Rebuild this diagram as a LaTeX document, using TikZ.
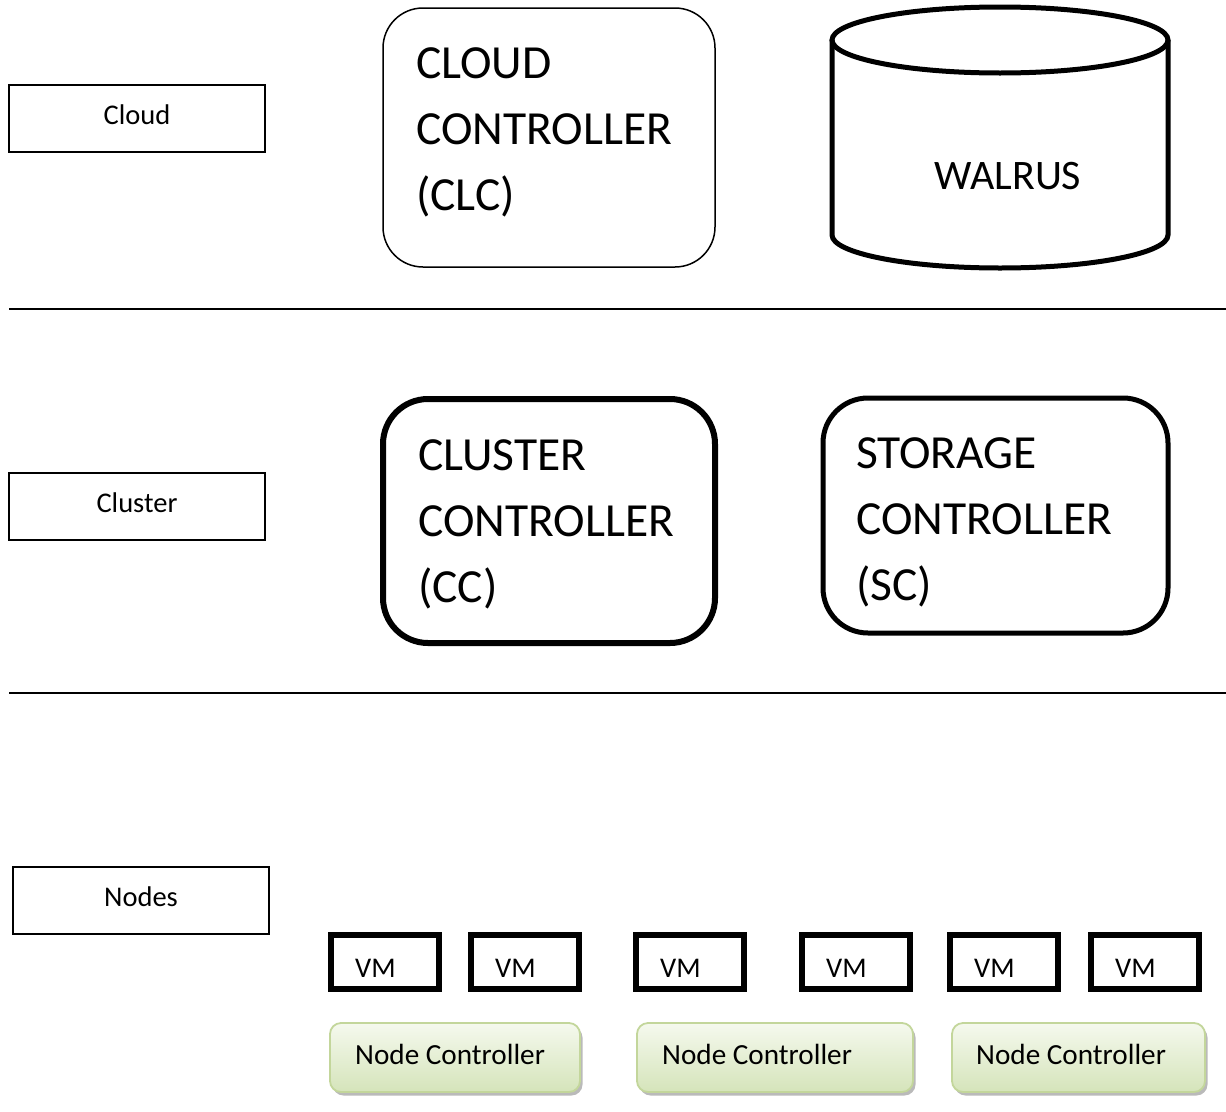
\documentclass[tikz,border=0pt]{standalone}
\usepackage{fontspec}
\setmainfont{Carlito}
\usetikzlibrary{shadows}
\definecolor{ncfilltop}{HTML}{F5F9EE}
\definecolor{ncfillbot}{HTML}{D5E4BA}
\definecolor{ncedge}{HTML}{C3D69B}
\tikzset{
  labelbox/.style={draw, line width=2, minimum width=256, minimum height=67, inner sep=0},
  labeltext/.style={anchor=base, inner sep=0, font=\fontsize{28.5}{34}\selectfont},
  bigtext/.style={anchor=base west, align=left, inner sep=0,
    font=\fontsize{47.5}{66}\selectfont},
  vmbox/.style={draw, line width=6, minimum width=108, minimum height=54,
    inner sep=0, outer sep=0},
  vmtext/.style={anchor=base west, inner sep=0, font=\fontsize{28.5}{34}\selectfont},
  nctext/.style={anchor=base west, inner sep=0, font=\fontsize{29.2}{34}\selectfont},
  ncbox/.style={draw=ncedge, line width=1.8, rounded corners=11, outer sep=0,
    top color=ncfilltop, bottom color=ncfillbot, minimum height=69, inner sep=0,
    drop shadow={shadow xshift=2.5pt, shadow yshift=-3.5pt, fill=black!45, opacity=0.6}},
  layer/.style={line width=2},
}
\begin{document}
\begin{tikzpicture}[x=1pt, y=-1pt]
\useasboundingbox (0,0) rectangle (1226,1111);

% tier labels
\node[labelbox] (lcloud) at (137,118.5) {};
\node[labeltext] (lcloudt) at (137,124.5) {Cloud};
\node[labelbox] (lcluster) at (137,506.5) {};
\node[labeltext] (lclustert) at (137,512.5) {Cluster};
\node[labelbox] (lnodes) at (141,900.5) {};
\node[labeltext] (lnodest) at (141,906.5) {Nodes};

% tier separators
\coordinate (s1a) at (9,309);  \coordinate (s1b) at (1226,309);
\coordinate (s2a) at (9,693);  \coordinate (s2b) at (1226,693);
\draw[layer] (s1a) -- (s1b);
\draw[layer] (s2a) -- (s2b);

% cloud tier (text nodes anchored on the baseline of their last line)
\node[draw, line width=1.5, rounded corners=40, minimum width=332, minimum height=259, inner sep=0]
  (clc) at (549,137.5) {};
\node[bigtext] (clctxt) at (416,210) {CLOUD\\CONTROLLER\\(CLC)};

\draw[line width=5] (832,40) -- (832,235) arc[start angle=180, end angle=0, x radius=168, y radius=33]
  -- (1168,40);
\draw[line width=5] (1000,40) ellipse[x radius=168, y radius=33];
\node[anchor=base, inner sep=0, font=\fontsize{42}{50}\selectfont] (walrus) at (1008,189) {WALRUS};

% cluster tier
\node[draw, line width=6, rounded corners=45, minimum width=332, minimum height=244, inner sep=0]
  (cc) at (549,521) {};
\node[bigtext] (cctxt) at (418,602) {CLUSTER\\CONTROLLER\\(CC)};
\node[draw, line width=5, rounded corners=45, minimum width=345, minimum height=235, inner sep=0]
  (sc) at (995.5,515.5) {};
\node[bigtext] (sctxt) at (856,600) {STORAGE\\CONTROLLER\\(SC)};

% node tier: virtual machines
\foreach \n/\x in {1/331,2/471,3/636,4/802,5/950,6/1091}{
  \node[vmbox, anchor=north west] (vm\n) at (\x,935) {};
  \node[vmtext] (vmt\n) at (\x+24,977) {VM};
}

% node controllers
\node[ncbox, minimum width=250, anchor=north west] (nc1) at (330,1023) {};
\node[ncbox, minimum width=276, anchor=north west] (nc2) at (637,1023) {};
\node[ncbox, minimum width=253, anchor=north west] (nc3) at (952,1023) {};
\node[nctext] (nct1) at (355,1064) {Node Controller};
\node[nctext] (nct2) at (662,1064) {Node Controller};
\node[nctext] (nct3) at (976,1064) {Node Controller};
\end{tikzpicture}
\end{document}
